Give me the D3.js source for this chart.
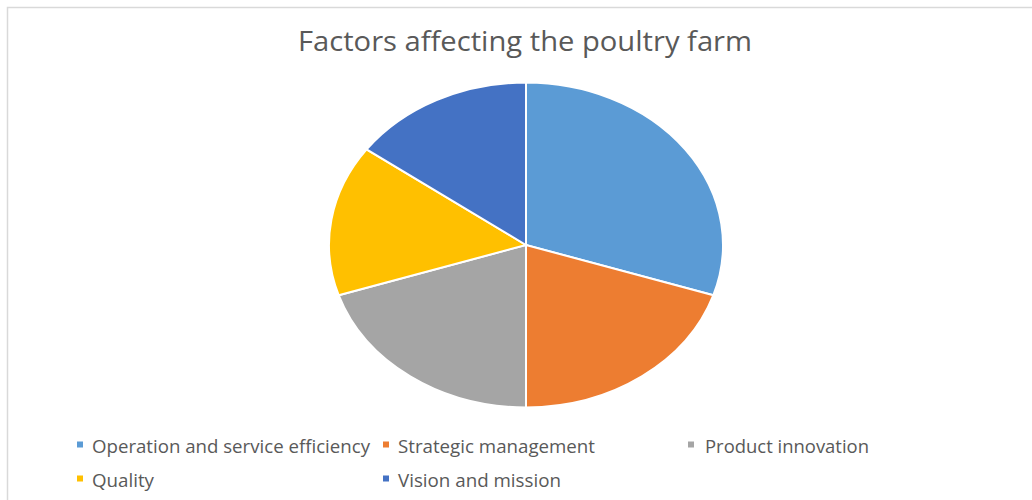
<!DOCTYPE html>
<html><head><meta charset="utf-8">
<script src="https://cdn.jsdelivr.net/npm/d3@7"></script>
<style>html,body{margin:0;padding:0;background:#fff;}svg{display:block;}</style>
</head><body>
<script>
const title = "Factors affecting the poultry farm";
const categories = ["Operation and service efficiency","Strategic management","Product innovation","Quality","Vision and mission"];
const values = [30, 20, 20, 15, 15];
const colors = ["#5B9BD5","#ED7D31","#A5A5A5","#FFC000","#4472C4"];

const W = 1032, H = 500;
const svg = d3.select("body").append("svg").attr("width", W).attr("height", H);
svg.append("rect").attr("width", W).attr("height", H).attr("fill", "#fff");
// chart border
svg.append("path").attr("d", `M7.5,${H+2}V7.5H${W+2}`).attr("fill","none").attr("stroke","#d9d9d9").attr("stroke-width",1.5);

svg.append("text").attr("x", 525).attr("y", 51).attr("text-anchor","middle")
  .attr("font-family","'Open Sans', sans-serif").attr("font-size",26.5).attr("fill","#595959")
  .attr("textLength",454).attr("lengthAdjust","spacingAndGlyphs").text(title);

const data = categories.map((c,i)=>({name:c, value:values[i], color:colors[i]}));
const pie = d3.pie().value(d=>d.value).sort(null);
const rx = 197, ry = 162.5, cx = 526, cy = 245;
const arc = d3.arc().innerRadius(0).outerRadius(1);
const g = svg.append("g").attr("transform", `translate(${cx},${cy}) scale(${rx},${ry})`);
g.selectAll("path").data(pie(data)).join("path")
  .attr("d", arc).attr("fill", d=>d.data.color)
  .attr("stroke","#fff").attr("stroke-width",2).attr("vector-effect","non-scaling-stroke");

const legendPos = [
  {mx:77, tx:92, y:452.5, w:278},
  {mx:383, tx:398, y:452.5, w:197},
  {mx:688, tx:705, y:452.5, w:164},
  {mx:77, tx:92, y:486.5, w:62},
  {mx:383, tx:398, y:486.5, w:163}
];
const lg = svg.append("g");
data.forEach((d,i)=>{
  const p = legendPos[i];
  lg.append("rect").attr("x",p.mx).attr("y",p.y-11).attr("width",6).attr("height",6).attr("fill",d.color);
  lg.append("text").attr("x",p.tx).attr("y",p.y)
    .attr("font-family","'Open Sans', sans-serif").attr("font-size",17.5).attr("fill","#595959")
    .attr("textLength",p.w).attr("lengthAdjust","spacingAndGlyphs").text(d.name);
});
</script>
</body></html>
